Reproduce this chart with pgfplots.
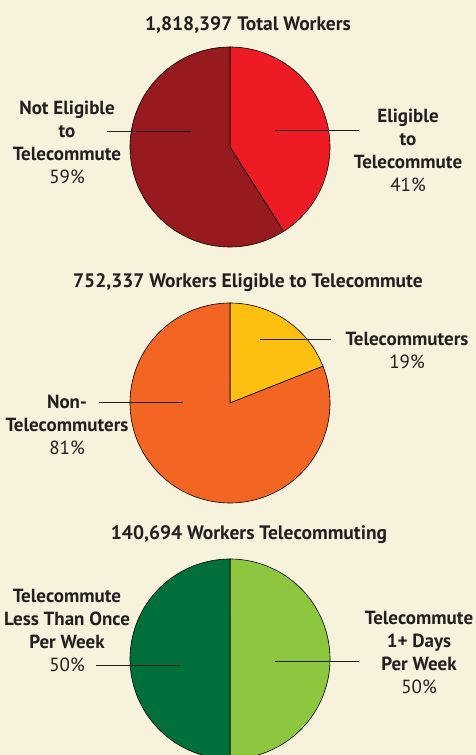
\documentclass[border=0pt]{standalone}
\usepackage{pgfplots}
\usepackage{pgfplotstable}
\pgfplotsset{compat=1.18}
\usepackage{fontspec}
\setmainfont{PT Sans}
\definecolor{bg}{HTML}{F6F2DC}
\definecolor{txt}{HTML}{231F20}
\definecolor{darkred}{HTML}{971B1E}
\definecolor{brightred}{HTML}{ED1C24}
\definecolor{yel}{HTML}{FDC010}
\definecolor{ora}{HTML}{F26522}
\definecolor{dgreen}{HTML}{006F3A}
\definecolor{lgreen}{HTML}{8DC63F}

% pie shares (percent), each pie starts at 12 o'clock, clockwise
\pgfplotstableread{
slice share
Eligible 41
NotEligible 59
}\pieA
\pgfplotstableread{
slice share
Telecommuters 19
NonTelecommuters 81
}\pieB
\pgfplotstableread{
slice share
OnePlusDays 50
LessThanOnce 50
}\pieC

\newcommand\getshare[3]{\pgfplotstablegetelem{#2}{share}\of#1\let#3\pgfplotsretval}

\begin{document}%
\begin{tikzpicture}[font=\fontsize{19}{23}\selectfont]
\getshare{\pieA}{0}{\Aa}\getshare{\pieA}{1}{\Ab}
\getshare{\pieB}{0}{\Ba}\getshare{\pieB}{1}{\Bb}
\getshare{\pieC}{0}{\Ca}\getshare{\pieC}{1}{\Cb}
\pgfmathsetmacro\Aend{\Aa+\Ab}
\pgfmathsetmacro\Bend{\Ba+\Bb}
\pgfmathsetmacro\Cend{\Ca+\Cb}
\begin{axis}[
  name=ax,
  scale only axis, width=476pt, height=755pt,
  xmin=0, xmax=476, ymin=-755, ymax=0,
  hide axis, no markers, clip=true,
]
\fill[bg] (axis cs:-5,-760) rectangle (axis cs:481,5);
% pie 1
\addplot[fill=brightred, draw=black, line width=0.6pt, domain=0:\Aa, samples=80, variable=\t]
  ({230+100*sin(3.6*\t)},{-147+100*cos(3.6*\t)}) -- (axis cs:230,-147) -- cycle;
\addplot[fill=darkred, draw=black, line width=0.6pt, domain=\Aa:\Aend, samples=120, variable=\t]
  ({230+100*sin(3.6*\t)},{-147+100*cos(3.6*\t)}) -- (axis cs:230,-147) -- cycle;
% pie 2
\addplot[fill=yel, draw=black, line width=0.6pt, domain=0:\Ba, samples=60, variable=\t]
  ({230+100*sin(3.6*\t)},{-403+100*cos(3.6*\t)}) -- (axis cs:230,-403) -- cycle;
\addplot[fill=ora, draw=black, line width=0.6pt, domain=\Ba:\Bend, samples=150, variable=\t]
  ({230+100*sin(3.6*\t)},{-403+100*cos(3.6*\t)}) -- (axis cs:230,-403) -- cycle;
% pie 3
\addplot[fill=lgreen, draw=black, line width=0.6pt, domain=0:\Ca, samples=100, variable=\t]
  ({230+100*sin(3.6*\t)},{-659+100*cos(3.6*\t)}) -- (axis cs:230,-659) -- cycle;
\addplot[fill=dgreen, draw=black, line width=0.6pt, domain=\Ca:\Cend, samples=100, variable=\t]
  ({230+100*sin(3.6*\t)},{-659+100*cos(3.6*\t)}) -- (axis cs:230,-659) -- cycle;

% leader lines
\draw[txt, line width=0.9pt] (axis cs:107,-131) -- (axis cs:191,-131);
\draw[txt, line width=0.9pt] (axis cs:275,-130) -- (axis cs:359,-130);
\draw[txt, line width=0.9pt] (axis cs:260,-339) -- (axis cs:331,-339);
\draw[txt, line width=0.9pt] (axis cs:99,-402) -- (axis cs:183,-402);
\draw[txt, line width=0.9pt] (axis cs:96,-665) -- (axis cs:180,-665);
\draw[txt, line width=0.9pt] (axis cs:275,-661) -- (axis cs:359,-661);

% titles
\node[txt, font=\fontsize{19.5}{23}\selectfont\bfseries] at (axis cs:248,-25) {1,818,397 Total Workers};
\node[txt, font=\fontsize{19.5}{23}\selectfont\bfseries] at (axis cs:248,-283) {752,337 Workers Eligible to Telecommute};
\node[txt, font=\fontsize{19.5}{23}\selectfont\bfseries] at (axis cs:249,-535) {140,694 Workers Telecommuting};

% labels
\node[txt, align=center] at (axis cs:67,-142.5) {\textbf{Not Eligible}\\\textbf{to}\\\textbf{Telecommute}\\59\%};
\node[txt, align=center] at (axis cs:408,-150) {\textbf{Eligible}\\\textbf{to}\\\textbf{Telecommute}\\41\%};
\node[txt, align=center] at (axis cs:407,-350.5) {\textbf{Telecommuters}\\19\%};
\node[txt, align=center] at (axis cs:67,-425) {\textbf{Non-}\\\textbf{Telecommuters}\\81\%};
\node[txt, align=center] at (axis cs:67,-630.5) {\textbf{Telecommute}\\\textbf{Less Than Once}\\\textbf{Per Week}\\50\%};
\node[txt, align=center] at (axis cs:419,-652.5) {\textbf{Telecommute}\\\textbf{1+ Days}\\\textbf{Per Week}\\50\%};
\end{axis}
\pgfresetboundingbox
\path[use as bounding box] (ax.south west) rectangle (ax.north east);
\end{tikzpicture}%
\end{document}
